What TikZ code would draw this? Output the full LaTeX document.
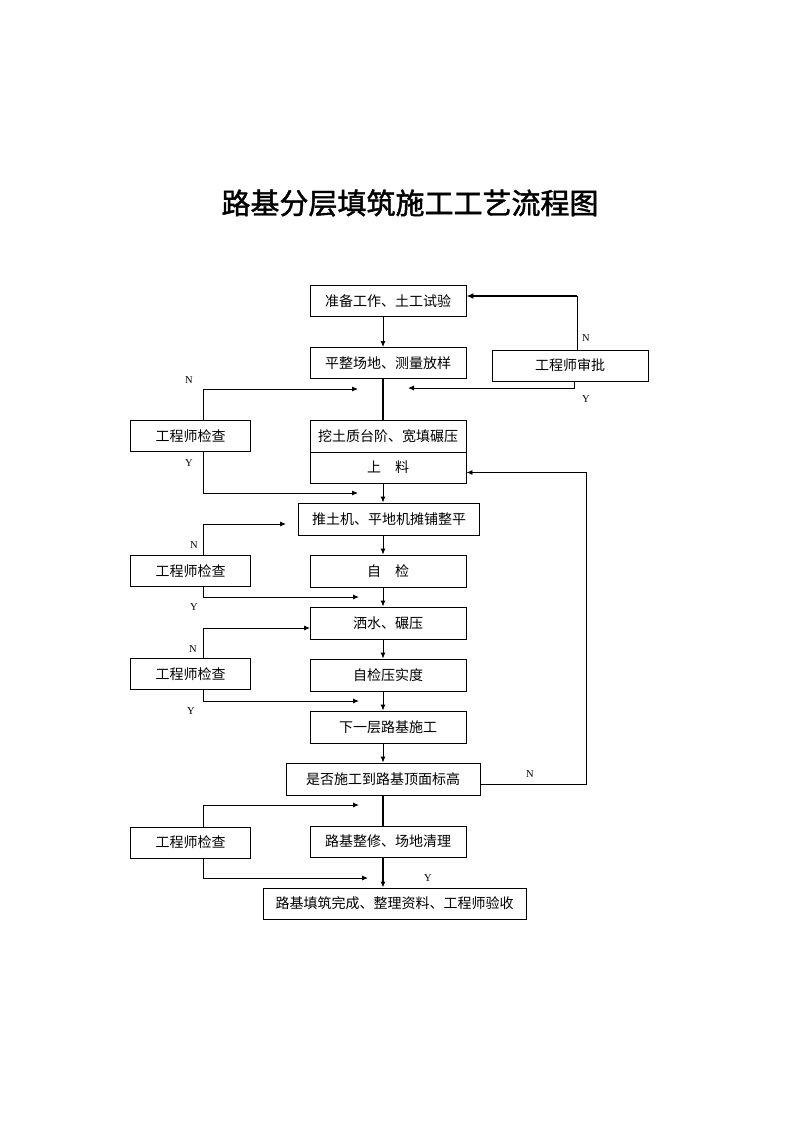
\documentclass[tikz,border=0pt]{standalone}
\usepackage{fontspec}
\newfontfamily\cjk{Noto Sans CJK SC}
\newfontfamily\cjktitle[FakeBold=1.5]{Noto Sans CJK SC}
\newfontfamily\latin{Liberation Serif}
\usetikzlibrary{arrows.meta}

\begin{document}
\begin{tikzpicture}[x=1pt,y=-1pt,
    box/.style={draw,line width=0.9pt,minimum width=156pt,minimum height=31pt,inner sep=0pt,font=\cjk\fontsize{14}{16}\selectfont},
    chk/.style={box,minimum width=120pt},
    link/.style={line width=0.9pt},
    arr/.style={link,-{Latex[length=6pt,width=5pt]}},
    heavy/.style={line width=2pt},
    lab/.style={font=\latin\fontsize{10.5}{12}\selectfont,inner sep=0pt}]
    \useasboundingbox (0,0) rectangle (794,1123);
    \node[font=\cjktitle\fontsize{29}{33}\selectfont] (title) at (410,203) {路基分层填筑施工工艺流程图};
    \coordinate (mx) at (383,0);

    \node[box] (prep) at (388,301) {准备工作、土工试验};
    \node[box] (level) at (388,363) {平整场地、测量放样};
    \node[box] (appr) at (570,365.5) {工程师审批};
    \node[box,minimum height=32pt] (bench) at (388,436) {挖土质台阶、宽填碾压};
    \node[box] (feed) at (388,467.5) {上\quad 料};
    \node[box,minimum width=181pt,minimum height=32pt] (spread) at (389,519) {推土机、平地机摊铺整平};
    \node[box,minimum height=32pt] (self) at (388,571) {自\quad 检};
    \node[box,minimum height=32pt] (roll) at (388,623) {洒水、碾压};
    \node[box,minimum height=32pt] (dens) at (388,675) {自检压实度};
    \node[box,minimum height=32pt] (next) at (388,727) {下一层路基施工};
    \node[box,minimum width=194pt,minimum height=32pt] (top) at (383,779) {是否施工到路基顶面标高};
    \node[box] (trim) at (388,841.5) {路基整修、场地清理};
    \node[box,minimum width=263pt] (done) at (394.5,903.5) {路基填筑完成、整理资料、工程师验收};
    \foreach \i/\y in {1/436,2/571,3/674,4/842.5}
        \node[chk] (chk\i) at (190.5,\y) {工程师检查};

    \draw[arr] (prep.south -| mx) -- (level.north -| mx);
    \draw[heavy] (level.south -| mx) -- (bench.north -| mx);
    \draw[arr] (feed.south -| mx) -- (spread.north -| mx);
    \draw[arr] (spread.south -| mx) -- (self.north -| mx);
    \draw[arr] (self.south -| mx) -- (roll.north -| mx);
    \draw[arr] (roll.south -| mx) -- (dens.north -| mx);
    \draw[arr] (dens.south -| mx) -- (next.north -| mx);
    \draw[arr] (next.south -| mx) -- (top.north -| mx);
    \draw[heavy] (top.south -| mx) -- (trim.north -| mx);
    \draw[heavy,-{Latex[length=6pt,width=5pt]}] (trim.south -| mx) -- (done.north -| mx);

    \coordinate (c1) at (577,296);
    \draw[link] ([xshift=7pt]appr.north) -- (c1);
    \draw[heavy,-{Latex[length=7pt,width=6pt]}] (c1) -- ([yshift=5pt]prep.east);
    \coordinate (c2) at (408,388);
    \draw[arr] ([xshift=4pt]appr.south) |- (c2);
    \node[lab] (appr-n) at (586,338) {N};
    \node[lab] (appr-y) at (586,399) {Y};

    \coordinate (r1) at (586,472.5);
    \draw[arr] ([yshift=-5pt]top.east) -| (r1) -- ([yshift=-5pt]feed.east);
    \node[lab] (top-n) at (530,774) {N};

    \coordinate (n1) at (358,389);
    \coordinate (y1) at (358,493);
    \coordinate (n2) at (286,524);
    \coordinate (y2) at (359,597);
    \coordinate (n3) at (310,628);
    \coordinate (y3) at (359,701);
    \coordinate (n4) at (359,805);
    \coordinate (y4) at (368,878);
    \foreach \i in {1,2,3,4}{
        \draw[arr] ([xshift=12.5pt]chk\i.north) |- (n\i);
        \draw[arr] ([xshift=12.5pt]chk\i.south) |- (y\i);
    }
    \node[lab] (chk1-n) at (189,380) {N};
    \node[lab] (chk1-y) at (189,463) {Y};
    \node[lab] (chk2-n) at (194,545) {N};
    \node[lab] (chk2-y) at (194,607) {Y};
    \node[lab] (chk3-n) at (193,649) {N};
    \node[lab] (chk3-y) at (191,711) {Y};
    \node[lab] (done-y) at (428,878) {Y};
\end{tikzpicture}
\end{document}
